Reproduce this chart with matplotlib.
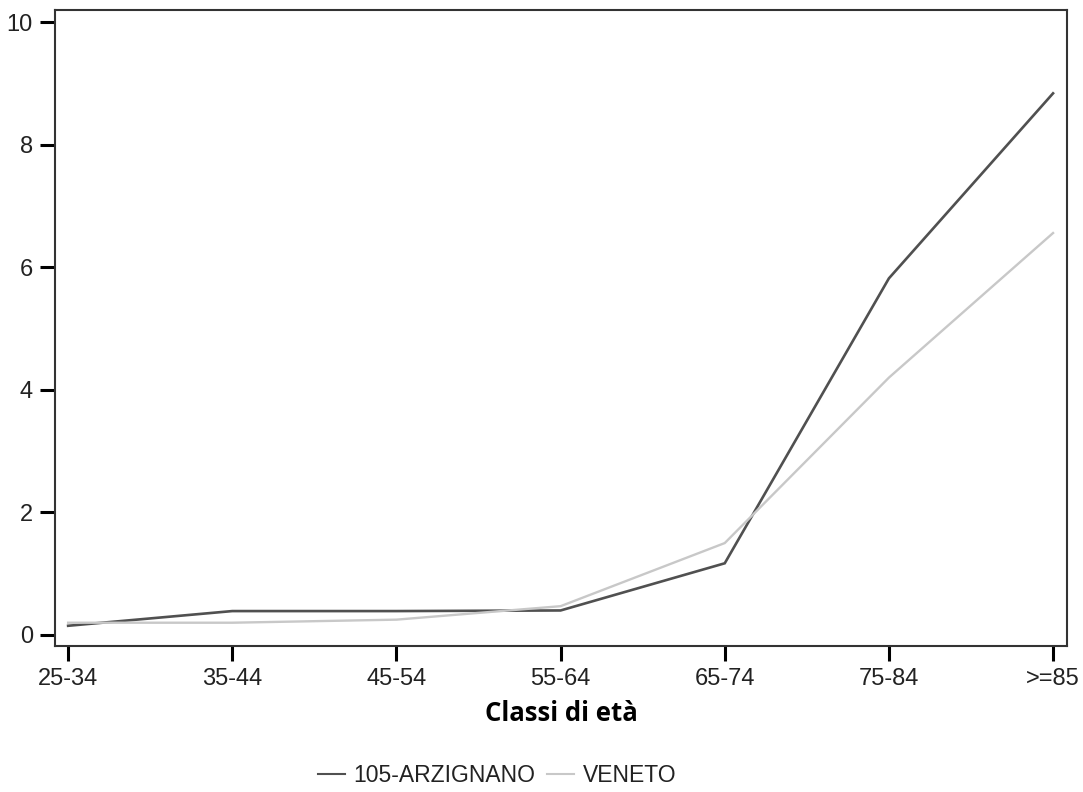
import matplotlib
matplotlib.use("Agg")
import matplotlib.pyplot as plt
from matplotlib.lines import Line2D

classi = ["25-34", "35-44", "45-54", "55-64", "65-74", "75-84", ">=85"]
arzignano = [0.15, 0.39, 0.39, 0.40, 1.17, 5.82, 8.84]
veneto = [0.20, 0.20, 0.25, 0.47, 1.50, 4.20, 6.56]
yticks = [0, 2, 4, 6, 8, 10]

plt.rcParams['font.family'] = ['Liberation Sans', 'DejaVu Sans']

fig = plt.figure(figsize=(10.83, 7.92), dpi=100)
ax = fig.add_axes([55 / 1083, 146 / 792, 1012 / 1083, 636 / 792])

x = list(range(len(classi)))
ax.plot(x, arzignano, color="#505050", lw=1.9, solid_joinstyle="miter")
ax.plot(x, veneto, color="#c8c8c8", lw=1.7)

ax.set_xlim(-0.08, 6.085)
ax.set_ylim(-0.18, 10.2)
ax.set_xticks(x)
ax.set_xticklabels(classi)
ax.set_yticks(yticks)
ax.tick_params(direction="out", length=11, width=2.2, labelsize=17, colors="black",
               labelcolor="#222222")
ax.tick_params(axis="x", pad=5)
ax.tick_params(axis="y", pad=5)
for s in ax.spines.values():
    s.set_linewidth(1.5)
    s.set_color("#333333")

ax.set_xlabel("Classi di età", fontsize=18.5, fontweight="bold",
              family=["Open Sans", "DejaVu Sans"], labelpad=7)

handles = [Line2D([], [], color="#505050", lw=1.5),
           Line2D([], [], color="#c8c8c8", lw=1.5)]
fig.legend(handles, ["105-ARZIGNANO", "VENETO"], loc="center",
           bbox_to_anchor=(497 / 1083, 1 - 776 / 792), ncol=2, frameon=False,
           fontsize=16.5, handlelength=1.17, handletextpad=0.4, columnspacing=0.48,
           labelcolor="#222222")

fig.savefig("out.png", dpi=100, facecolor="white")
